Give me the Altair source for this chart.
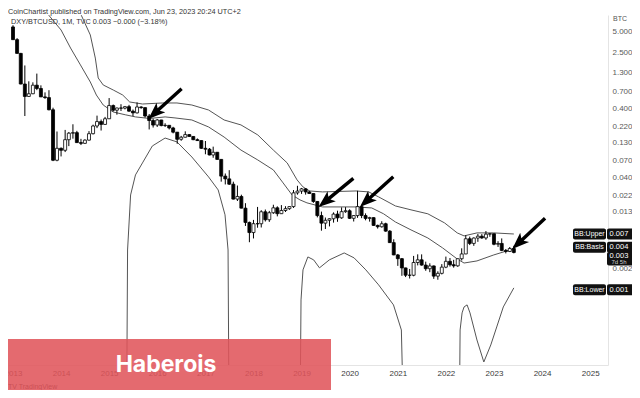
import altair as alt
import pandas as pd

FONT = "Liberation Sans"
W, H = 600, 350

# ---------------- candles: DXY/BTCUSD monthly, Jan 2013 .. Jun 2023 ----------------
months = pd.date_range("2013-01-01", "2023-06-01", freq="MS").strftime("%Y-%m-%d").tolist()

open_ = [
    5.91, 3.88, 2.46, 0.892, 0.591, 0.646, 0.858, 0.769, 0.582, 0.569, 0.38, 0.0714,
    0.106, 0.0993, 0.141, 0.175, 0.178, 0.128, 0.125, 0.139, 0.172, 0.222, 0.257, 0.234,
    0.282, 0.437, 0.375, 0.403, 0.401, 0.421, 0.363, 0.343, 0.417, 0.408, 0.309, 0.266,
    0.229, 0.271, 0.225, 0.227, 0.208, 0.181, 0.143, 0.153, 0.167, 0.157, 0.141, 0.137,
    0.106, 0.103, 0.085, 0.093, 0.0734, 0.0422, 0.0385, 0.0323, 0.0197, 0.0215, 0.0146, 0.00909,
    0.0065, 0.00872, 0.00871, 0.01294, 0.00994, 0.01254, 0.01476, 0.01215, 0.01351, 0.01435, 0.01537, 0.02422,
    0.02571, 0.02765, 0.02496, 0.0237, 0.01822, 0.01141, 0.00888, 0.00977, 0.01027, 0.01199, 0.01059, 0.01299,
    0.0134, 0.01042, 0.01141, 0.01537, 0.01143, 0.01039, 0.01066, 0.00824, 0.00788, 0.00871, 0.00682, 0.00466,
    0.0031, 0.002736, 0.002014, 0.001582, 0.001581, 0.002411, 0.002637, 0.002215, 0.001963, 0.002151, 0.001535, 0.001684,
    0.002067, 0.002508, 0.002239, 0.002159, 0.002731, 0.003202, 0.005292, 0.004538, 0.005421, 0.005769, 0.00544, 0.006168,
    0.006255, 0.004412, 0.004532, 0.003599, 0.003475, 0.003832,
]
high_ = [
    6.26, 4.08, 2.5, 1.65, 0.976, 0.943, 1.26, 0.854, 0.676, 0.727, 0.407, 0.185,
    0.109, 0.195, 0.182, 0.235, 0.189, 0.145, 0.143, 0.1875, 0.232, 0.313, 0.275, 0.30,
    0.56, 0.452, 0.408, 0.457, 0.431, 0.447, 0.383, 0.485, 0.427, 0.411, 0.33, 0.283,
    0.279, 0.272, 0.243, 0.228, 0.216, 0.182, 0.16, 0.186, 0.169, 0.158, 0.147, 0.138,
    0.135, 0.107, 0.112, 0.0935, 0.0736, 0.046, 0.0514, 0.0351, 0.0309, 0.0228, 0.0172, 0.00935,
    0.00989, 0.0152, 0.01364, 0.01395, 0.01333, 0.01635, 0.0155, 0.01616, 0.01557, 0.01548, 0.02658, 0.03063,
    0.02851, 0.02824, 0.026, 0.0239, 0.0184, 0.01302, 0.0107, 0.01043, 0.01269, 0.01342, 0.01496, 0.01509,
    0.01405, 0.0116, 0.02597, 0.01626, 0.01228, 0.01096, 0.01078, 0.00845, 0.00946, 0.00901, 0.00705, 0.0052,
    0.0032, 0.0028, 0.00203, 0.001947, 0.003, 0.00316, 0.003157, 0.00248, 0.002348, 0.00218, 0.001801, 0.002286,
    0.002933, 0.002799, 0.002634, 0.00275, 0.003858, 0.005938, 0.005691, 0.005546, 0.006209, 0.006181, 0.006839, 0.00638,
    0.00628, 0.004883, 0.005357, 0.003773, 0.004031, 0.004194,
]
low_ = [
    3.83, 2.45, 0.883, 0.309, 0.585, 0.638, 0.728, 0.58, 0.546, 0.373, 0.0693, 0.069,
    0.081, 0.0936, 0.114, 0.146, 0.127, 0.118, 0.123, 0.137, 0.168, 0.207, 0.191, 0.231,
    0.28, 0.358, 0.323, 0.365, 0.385, 0.356, 0.308, 0.336, 0.393, 0.294, 0.198, 0.211,
    0.215, 0.22, 0.215, 0.198, 0.174, 0.123, 0.136, 0.152, 0.155, 0.139, 0.135, 0.104,
    0.087, 0.084, 0.0775, 0.073, 0.0351, 0.032, 0.0315, 0.0195, 0.0185, 0.0145, 0.00809, 0.00472,
    0.00535, 0.00763, 0.00769, 0.00938, 0.00926, 0.01208, 0.01112, 0.0121, 0.01284, 0.01381, 0.0147, 0.02282,
    0.02341, 0.02286, 0.02343, 0.01741, 0.01075, 0.00692, 0.00731, 0.00797, 0.00904, 0.00929, 0.01026, 0.01252,
    0.01018, 0.00938, 0.0106, 0.01048, 0.00976, 0.00934, 0.00815, 0.00742, 0.00766, 0.00667, 0.00462, 0.00307,
    0.002157, 0.001551, 0.001489, 0.001419, 0.001527, 0.002191, 0.00217, 0.001832, 0.001749, 0.001403, 0.001362, 0.001624,
    0.001998, 0.002107, 0.002033, 0.002089, 0.002575, 0.00318, 0.004296, 0.004187, 0.004781, 0.005286, 0.005116, 0.005652,
    0.004268, 0.00404, 0.00351, 0.003258, 0.003406, 0.003264,
]
close_ = [
    3.88, 2.46, 0.892, 0.591, 0.646, 0.858, 0.769, 0.582, 0.569, 0.38, 0.0714, 0.106,
    0.0993, 0.141, 0.175, 0.178, 0.128, 0.125, 0.139, 0.172, 0.222, 0.257, 0.234, 0.282,
    0.437, 0.375, 0.403, 0.401, 0.421, 0.363, 0.343, 0.417, 0.408, 0.309, 0.266, 0.229,
    0.271, 0.225, 0.227, 0.208, 0.181, 0.143, 0.153, 0.167, 0.157, 0.141, 0.137, 0.106,
    0.103, 0.085, 0.093, 0.0734, 0.0422, 0.0385, 0.0323, 0.0197, 0.0215, 0.0146, 0.00909, 0.0065,
    0.00872, 0.00871, 0.01294, 0.00994, 0.01254, 0.01476, 0.01215, 0.01351, 0.01435, 0.01537, 0.02422, 0.02571,
    0.02765, 0.02496, 0.0237, 0.01822, 0.01141, 0.00888, 0.00977, 0.01027, 0.01199, 0.01059, 0.01299, 0.0134,
    0.01042, 0.01141, 0.01537, 0.01143, 0.01039, 0.01066, 0.00824, 0.00788, 0.00871, 0.00682, 0.00466, 0.0031,
    0.002736, 0.002014, 0.001582, 0.001581, 0.002411, 0.002637, 0.002215, 0.001963, 0.002151, 0.001535, 0.001684, 0.002067,
    0.002508, 0.002239, 0.002159, 0.002731, 0.003202, 0.005292, 0.004538, 0.005421, 0.005769, 0.00544, 0.006168, 0.006255,
    0.004412, 0.004532, 0.003599, 0.003475, 0.003832, 0.003363,
]

# ---------------- Bollinger bands ----------------
upper_dates = ["2013-03-01", "2014-04-21", "2014-06-05", "2014-08-11", "2014-09-18", "2014-10-10",
               "2014-11-17", "2015-02-01", "2015-04-14", "2015-06-06", "2015-09-11", "2016-02-09",
               "2016-05-30", "2016-09-20", "2017-01-25", "2017-05-23", "2017-09-28", "2018-02-03",
               "2018-06-01", "2018-09-14", "2018-11-28", "2019-01-12", "2019-03-03", "2019-06-09",
               "2020-02-19", "2020-05-25", "2020-08-08", "2020-12-14", "2021-04-11", "2021-08-17",
               "2021-12-22", "2022-03-28", "2022-05-19", "2022-08-25", "2022-12-31", "2023-06-01"]
upper_vals = [28, 28, 8.6, 4.53, 2.11, 1.09, 0.864, 0.732, 0.620, 0.492, 0.460, 0.476,
              0.476, 0.445, 0.377, 0.271, 0.230, 0.165, 0.100, 0.0653, 0.0372, 0.0295, 0.0258, 0.0250,
              0.0258, 0.0250, 0.0212, 0.0157, 0.0138, 0.0121, 0.00895, 0.00643, 0.00582, 0.00643, 0.00643, 0.0062]

basis_dates = ["2013-03-01", "2013-08-11", "2013-10-02", "2014-01-01", "2014-03-14", "2014-05-28",
               "2014-08-11", "2014-09-26", "2014-11-17", "2015-02-01", "2015-05-07", "2015-07-20",
               "2015-11-03", "2016-03-01", "2016-05-15", "2016-09-20", "2017-01-25", "2017-05-23",
               "2017-09-28", "2018-02-03", "2018-06-01", "2018-08-14", "2018-10-21", "2018-12-20",
               "2019-02-11", "2019-06-09", "2020-02-19", "2020-06-17", "2020-09-15", "2020-12-14",
               "2021-04-11", "2021-08-17", "2021-12-07", "2022-03-28", "2022-05-19", "2022-08-25",
               "2022-12-31", "2023-06-01"]
basis_vals = [40, 20.1, 8.6, 5.34, 2.94, 1.68, 0.954, 0.620, 0.445, 0.353, 0.321, 0.300,
              0.285, 0.300, 0.290, 0.271, 0.215, 0.154, 0.100, 0.0720, 0.0518, 0.0337, 0.0226, 0.0192,
              0.0174, 0.0152, 0.0152, 0.0147, 0.0121, 0.00923, 0.00710, 0.00543, 0.00391, 0.00271,
              0.00237, 0.00254, 0.00310, 0.0038]

# 1e-6 = band below zero (off the bottom of the log chart)
lower_dates = ["2013-03-01", "2015-05-10", "2015-05-21", "2015-06-13", "2015-07-20", "2015-09-11",
               "2015-11-25", "2016-03-01", "2016-05-30", "2016-09-20", "2017-01-25", "2017-04-08",
               "2017-05-30", "2017-06-22", "2017-07-03", "2018-12-16", "2018-12-28", "2019-01-12",
               "2019-02-18", "2019-04-03", "2019-05-17", "2019-07-31", "2019-11-21", "2020-02-04",
               "2020-05-03", "2020-08-08", "2020-11-29", "2021-01-28", "2021-02-27", "2022-04-08",
               "2022-04-19", "2022-05-04", "2022-05-19", "2022-06-11", "2022-07-03", "2022-08-25",
               "2022-10-16", "2022-12-08", "2023-01-22", "2023-03-13", "2023-06-01"]
lower_vals = [1e-6, 1e-6, 0.00365, 0.0226, 0.0439, 0.0653, 0.1145, 0.149, 0.131, 0.0795,
              0.0411, 0.0267, 0.0117, 0.00365, 1e-6, 1e-6, 0.000698, 0.00189, 0.0029, 0.00263,
              0.00202, 0.00263, 0.00331, 0.00281, 0.00189, 0.00115, 0.000592, 0.000258, 1e-6, 1e-6,
              0.000258, 0.000454, 0.000553, 0.000592, 0.000454, 0.000185, 0.0000893, 0.000157,
              0.000285, 0.000553, 0.00104]

# ---------------- annotations ----------------
arrow_tip_dates = ["2015-10-26", "2019-05-10", "2020-03-19", "2023-05-20"]
arrow_tip_vals = [0.280, 0.0152, 0.0152, 0.00377]
arrow_angles = [227.6, 230.7, 227.9, 226.8]

tag_vals = [0.0062, 0.0040, 0.00098]
tag_names = ["BB:Upper", "BB:Basis", "BB:Lower"]
tag_nums = ["0.007", "0.004", "0.001"]
last_price = [0.00336]
last_text = ["0.003"]
countdown = ["7d 5h"]

year_ticks = [2013, 2014, 2015, 2016, 2017, 2018, 2019, 2020, 2021, 2022, 2023, 2024, 2025]
y_ticks = [5, 2.5, 1.3, 0.7, 0.4, 0.22, 0.13, 0.07, 0.04, 0.022, 0.013, 0.002]

PUBLISH = "CoinChartist published on TradingView.com, Jun 23, 2023 20:24 UTC+2"
LEGEND = "DXY/BTCUSD, 1M, TVC  0.003  \u22120.000 (\u22123.18%)"
BANNER = "Haberois"

# ---------------- scales / axes ----------------
x_scale = alt.Scale(type="utc", nice=False,
                    domain=[alt.DateTime(year=2013, month=1, date=1, utc=True),
                            alt.DateTime(year=2025, month=4, date=8, utc=True)])
y_scale = alt.Scale(type="log", nice=False, domain=[8.08e-5, 8.78])

x_axis = alt.Axis(values=[alt.DateTime(year=y, month=1, date=1, utc=True) for y in year_ticks],
                  format="%Y", labelFont=FONT, labelFontSize=8, labelColor="#3a3a3a",
                  ticks=False, tickSize=0, grid=False, domain=True, domainColor="#e4e4e4",
                  labelPadding=4, labelFlush=False, labelOverlap=False)
y_axis = alt.Axis(orient="right", values=y_ticks, format=".3f", labelFont=FONT, labelFontSize=8,
                  labelColor="#5a5a5a", ticks=False, tickSize=0, grid=False, domain=True,
                  domainColor="#e4e4e4", labelPadding=4, labelAlign="left", labelOverlap=False,
                  labelFlush=False)


def X(f):
    return alt.X(f"{f}:T", scale=x_scale, axis=x_axis, title=None)


def Y(f):
    return alt.Y(f"{f}:Q", scale=y_scale, axis=y_axis, title=None)


candles = pd.DataFrame({"date": months, "open": open_, "high": high_, "low": low_, "close": close_})
up_df = pd.DataFrame({"date": upper_dates, "v": upper_vals})
ba_df = pd.DataFrame({"date": basis_dates, "v": basis_vals})
lo_df = pd.DataFrame({"date": lower_dates, "v": lower_vals})
arrows = pd.DataFrame({"date": arrow_tip_dates, "v": arrow_tip_vals, "ang": arrow_angles})
tags = pd.DataFrame({"v": tag_vals, "name": tag_names, "num": tag_nums})
price = pd.DataFrame({"v": last_price, "t": last_text, "c": countdown})
one = pd.DataFrame({"a": [0]})

LINE = "#555555"

fill_up = alt.Chart(up_df).mark_area(color="#f5f5f5", clip=True).encode(
    x=X("date"), y=Y("v"), y2=alt.value(H))
fill_lo = alt.Chart(lo_df).mark_area(color="white", clip=True).encode(
    x=X("date"), y=Y("v"), y2=alt.value(H))
l_up = alt.Chart(up_df).mark_line(color=LINE, strokeWidth=1, clip=True).encode(x=X("date"), y=Y("v"))
l_ba = alt.Chart(ba_df).mark_line(color=LINE, strokeWidth=1, clip=True).encode(x=X("date"), y=Y("v"))
l_lo = alt.Chart(lo_df).mark_line(color=LINE, strokeWidth=1, clip=True).encode(x=X("date"), y=Y("v"))

wicks = alt.Chart(candles).mark_rule(color="black", strokeWidth=1, clip=True).encode(
    x=X("date"), y=Y("low"), y2="high")
bodies = alt.Chart(candles).mark_bar(size=3, stroke="black", strokeWidth=0.8, clip=True).encode(
    x=X("date"), y=Y("open"), y2="close",
    fill=alt.condition("datum.close >= datum.open", alt.value("white"), alt.value("black")))

ARROW = "M0,0 L6.5,17 L1.7,14 L1.7,45 L-1.7,45 L-1.7,14 L-6.5,17 Z"
arrow_marks = alt.Chart(arrows).mark_point(shape=ARROW, size=4, filled=True, color="black",
                                           opacity=1, strokeWidth=0).encode(
    x=X("date"), y=Y("v"), angle=alt.Angle("ang:Q", scale=None))

tag_box = alt.Chart(tags).mark_rect(color="#111111", cornerRadius=2, yOffset=-5.5, y2Offset=5.5).encode(
    x=alt.value(565), x2=alt.value(598), y=Y("v"), y2="v")
val_box = alt.Chart(tags).mark_rect(color="#111111", cornerRadius=2, yOffset=-5.5, y2Offset=5.5).encode(
    x=alt.value(599), x2=alt.value(626), y=Y("v"), y2="v")
tag_txt = alt.Chart(tags).mark_text(font=FONT, fontSize=7, color="white", align="center",
                                    baseline="middle").encode(x=alt.value(581.5), y=Y("v"), text="name:N")
val_txt = alt.Chart(tags).mark_text(font=FONT, fontSize=7.5, color="white", align="center",
                                    baseline="middle").encode(x=alt.value(611), y=Y("v"), text="num:N")
price_box = alt.Chart(price).mark_rect(color="#111111", cornerRadius=2, yOffset=-0.5, y2Offset=13).encode(
    x=alt.value(599), x2=alt.value(626), y=Y("v"), y2="v")
price_txt = alt.Chart(price).mark_text(font=FONT, fontSize=7.5, color="white", align="center",
                                       baseline="middle", yOffset=3.3).encode(
    x=alt.value(611), y=Y("v"), text="t:N")
cd_txt = alt.Chart(price).mark_text(font=FONT, fontSize=6, color="#cfcfcf", align="center",
                                    baseline="middle", yOffset=9.3).encode(
    x=alt.value(611), y=Y("v"), text="c:N")

btc = alt.Chart(one).mark_text(text="BTC", font=FONT, fontSize=7, color="#555", align="left",
                               baseline="middle").encode(x=alt.value(605), y=alt.value(4))
pub = alt.Chart(one).mark_text(text=PUBLISH, font=FONT, fontSize=7.3, color="#333", align="left",
                               baseline="middle").encode(x=alt.value(0), y=alt.value(-3))
leg = alt.Chart(one).mark_text(text=LEGEND, font=FONT, fontSize=7.3, color="#333", align="left",
                               baseline="middle").encode(x=alt.value(3), y=alt.value(7))
tv = alt.Chart(one).mark_text(text="TV TradingView", font=FONT, fontSize=7, color="#333", align="left",
                              baseline="middle").encode(x=alt.value(0), y=alt.value(372))
banner = alt.Chart(one).mark_rect(color="#e0545a", opacity=0.87).encode(
    x=alt.value(-8), x2=alt.value(323), y=alt.value(324), y2=alt.value(382))
banner_txt = alt.Chart(one).mark_text(text=BANNER, font="Inter", fontWeight="bold", fontSize=23,
                                      color="white", align="center", baseline="alphabetic").encode(
    x=alt.value(158), y=alt.value(356.5))

chart = alt.layer(
    fill_up, fill_lo, l_up, l_ba, l_lo, wicks, bodies, arrow_marks,
    tag_box, val_box, tag_txt, val_txt, price_box, price_txt, cd_txt,
    btc, pub, leg, tv, banner, banner_txt,
).properties(
    width=W, height=H,
    padding={"left": 0, "top": 7, "right": 24, "bottom": 25},
    autosize=alt.AutoSizeParams(type="none"),
    background="white",
).configure_view(stroke=None)

chart.save("out.html", embed_options={"renderer": "svg", "actions": False})
